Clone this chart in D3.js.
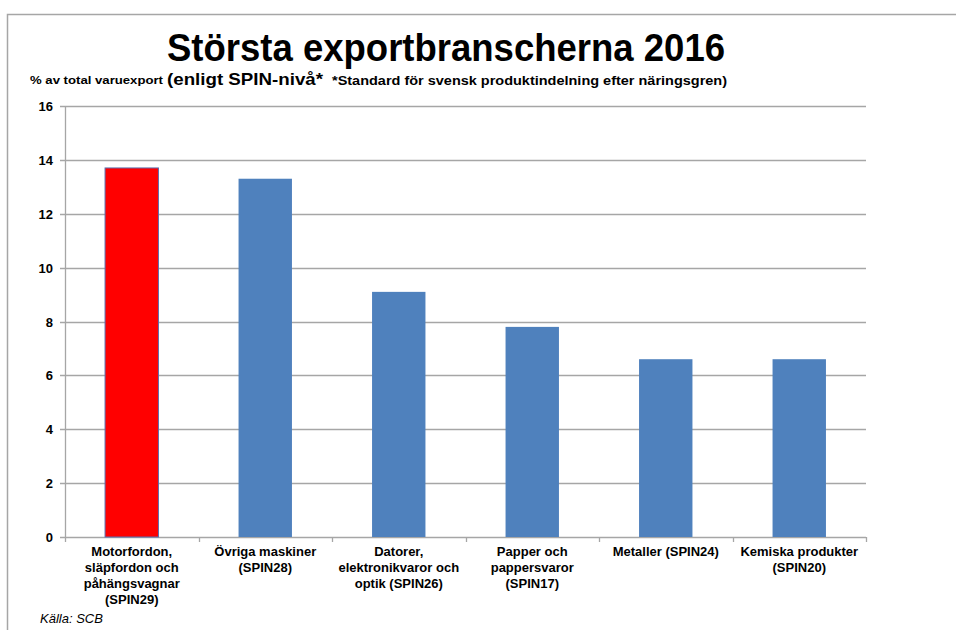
<!DOCTYPE html>
<html>
<head>
<meta charset="utf-8">
<script src="https://cdn.jsdelivr.net/npm/d3@7"></script>
<style>
  body { margin: 0; background: #fff; }
  text { font-family: "Liberation Sans", Arial, sans-serif; fill: #000; }
</style>
</head>
<body>
<div class="graph-container"></div>
<script>
// Chart data
const categories = [
  ['Motorfordon,', 'släpfordon och', 'påhängsvagnar', '(SPIN29)'],
  ['Övriga maskiner', '(SPIN28)'],
  ['Datorer,', 'elektronikvaror och', 'optik (SPIN26)'],
  ['Papper och', 'pappersvaror', '(SPIN17)'],
  ['Metaller (SPIN24)'],
  ['Kemiska produkter', '(SPIN20)']
];
const values = [13.7, 13.3, 9.1, 7.8, 6.6, 6.6];
const highlighted = [true, false, false, false, false, false];
const yTicks = [0, 2, 4, 6, 8, 10, 12, 14, 16];

const width = 956, height = 630;
const margin = {left: 65, right: 90, top: 106, bottom: 93};
const plotWidth = width - margin.left - margin.right;
const plotHeight = height - margin.top - margin.bottom;

const svg = d3.select('.graph-container')
              .append('svg')
              .attr('width', width)
              .attr('height', height);

// Outer frame
svg.append('path')
   .attr('d', `M7.5,${height} V14.5 H${width}`)
   .attr('fill', 'none')
   .attr('stroke', '#a6a6a6')
   .attr('stroke-width', 1.5);

// Titles
svg.append('text')
   .attr('x', 446).attr('y', 61)
   .attr('text-anchor', 'middle')
   .attr('font-size', 38).attr('font-weight', 'bold')
   .attr('textLength', 558).attr('lengthAdjust', 'spacingAndGlyphs')
   .text('Största exportbranscherna 2016');

svg.append('text')
   .attr('x', 30).attr('y', 84)
   .attr('font-size', 11.5).attr('font-weight', 'bold')
   .attr('textLength', 133).attr('lengthAdjust', 'spacingAndGlyphs')
   .text('% av total varuexport');

svg.append('text')
   .attr('x', 167).attr('y', 85)
   .attr('font-size', 16.5).attr('font-weight', 'bold')
   .attr('textLength', 156).attr('lengthAdjust', 'spacingAndGlyphs')
   .text('(enligt SPIN-nivå*');

svg.append('text')
   .attr('x', 332).attr('y', 85)
   .attr('font-size', 12.5).attr('font-weight', 'bold')
   .attr('textLength', 395).attr('lengthAdjust', 'spacingAndGlyphs')
   .text('*Standard för svensk produktindelning efter näringsgren)');

const plot = svg.append('g')
                .attr('transform', `translate(${margin.left},${margin.top})`);

const xScale = d3.scaleBand()
                 .domain(d3.range(categories.length))
                 .range([0, plotWidth])
                 .paddingInner(0.6)
                 .paddingOuter(0.3);
const yScale = d3.scaleLinear()
                 .domain([0, 16])
                 .range([plotHeight, 0]);

// Grid lines
plot.append('g')
    .selectAll('line')
    .data(yTicks)
    .join('line')
    .attr('x1', -5).attr('x2', plotWidth)
    .attr('y1', d => Math.round(yScale(d)) + 0.5)
    .attr('y2', d => Math.round(yScale(d)) + 0.5)
    .attr('stroke', '#a6a6a6')
    .attr('stroke-width', 1.3);

// Y axis line
plot.append('line')
    .attr('x1', 0.5).attr('x2', 0.5)
    .attr('y1', 0).attr('y2', plotHeight)
    .attr('stroke', '#a6a6a6').attr('stroke-width', 1.3);

// X category ticks
const stepW = plotWidth / categories.length;
plot.append('g')
    .selectAll('line')
    .data(d3.range(categories.length + 1))
    .join('line')
    .attr('x1', d => Math.round(d * stepW) + 0.5)
    .attr('x2', d => Math.round(d * stepW) + 0.5)
    .attr('y1', plotHeight).attr('y2', plotHeight + 5)
    .attr('stroke', '#a6a6a6').attr('stroke-width', 1.3);

// Y tick labels
plot.append('g')
    .selectAll('text')
    .data(yTicks)
    .join('text')
    .attr('x', -12)
    .attr('y', d => yScale(d) + 5)
    .attr('text-anchor', 'end')
    .attr('font-size', 13).attr('font-weight', 'bold')
    .text(d => d);

// Bars
plot.append('g')
    .selectAll('rect')
    .data(values)
    .join('rect')
    .attr('x', (d, i) => xScale(i))
    .attr('y', d => yScale(d))
    .attr('width', xScale.bandwidth())
    .attr('height', d => plotHeight - yScale(d))
    .attr('fill', (d, i) => highlighted[i] ? '#ff0000' : '#4f81bd')
    .attr('stroke', (d, i) => highlighted[i] ? '#5a6fb0' : 'none')
    .attr('stroke-width', 1);

// Category labels
const labels = plot.append('g')
                   .selectAll('text')
                   .data(categories)
                   .join('text')
                   .attr('text-anchor', 'middle')
                   .attr('font-size', 13).attr('font-weight', 'bold')
                   .attr('transform', (d, i) =>
                     `translate(${xScale(i) + xScale.bandwidth() / 2},${plotHeight + 19})`);

labels.selectAll('tspan')
      .data(d => d)
      .join('tspan')
      .attr('x', 0)
      .attr('y', (d, i) => i * 16)
      .text(d => d);

// Source
svg.append('text')
   .attr('x', 40).attr('y', 623)
   .attr('font-size', 13).attr('font-style', 'italic')
   .text('Källa: SCB');
</script>
</body>
</html>
